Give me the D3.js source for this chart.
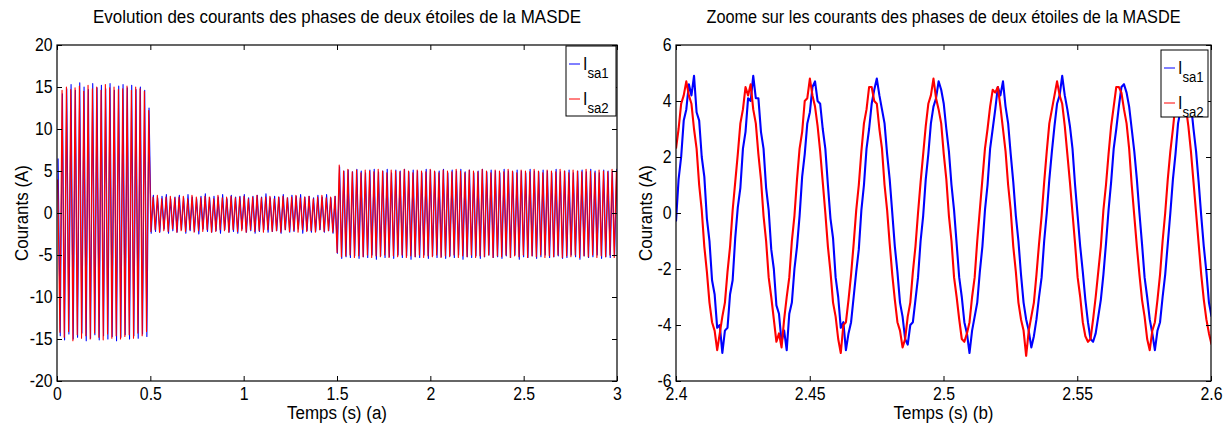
<!DOCTYPE html>
<html>
<head>
<meta charset="utf-8">
<script src="https://cdn.jsdelivr.net/npm/d3@7"></script>
<style>
  body { margin: 0; background: #fff; }
  text { font-family: "Liberation Sans", Arial, Helvetica, sans-serif; fill: #000; }
</style>
</head>
<body>
<svg id="fig" width="1223" height="425"></svg>
<script>
// ---- données ----
// (a) courbe complète : extrêmes successifs (une demi-période entre deux valeurs)
const halfPeriodA = 0.0116;          // s
const startIsa1A = 0.0058, startIsa2A = 0.0039;

const isa1A = [
  // démarrage 0 - 0.5 s
  6.5, -14.6, 14.2, -15.1, 14.8, -14.4, 15.3, -15.0, 14.6, -14.8,
  15.5, -14.3, 15.0, -15.2, 14.7, -14.9, 15.4, -14.5, 14.9, -15.1,
  15.2, -14.6, 14.8, -15.0, 15.4, -14.7, 14.6, -15.2, 15.1, -14.8,
  15.3, -14.5, 14.9, -15.0, 15.2, -14.6, 14.7, -14.9, 15.0, -14.4,
  14.6, -14.7, 12.5,
  // 0.5 - 1.5 s
  -2.4, 2.1, -2.2, 1.8, -2.3, 2.0, -1.9, 2.2, -2.4, 1.7,
  -2.1, 1.9, -2.3, 2.1, -2.0, 1.8, -2.4, 2.2, -2.1, 1.9,
  -2.2, 1.7, -2.5, 2.0, -1.9, 2.3, -2.2, 1.8, -2.3, 2.0,
  -2.1, 1.9, -2.4, 2.2, -2.0, 1.7, -2.3, 2.1, -2.2, 1.9,
  -2.4, 2.0, -1.9, 2.2, -2.3, 1.8, -2.1, 2.0, -2.4, 2.1,
  -2.2, 1.9, -2.0, 2.3, -2.3, 1.8, -2.2, 2.0, -2.1, 1.9,
  -2.4, 2.2, -2.0, 1.8, -2.3, 2.1, -2.2, 2.0, -1.9, 2.2,
  -2.4, 1.9, -2.1, 2.0, -2.3, 1.8, -2.2, 2.1, -2.0, 1.9,
  -2.3, 2.2, -2.1, 1.8, -2.4, 2.0,
  // 1.5 - 3 s
  -4.8, 5.5, -5.4, 5.0, -5.2, 5.1, -5.3, 4.9, -5.1, 5.2,
  -5.4, 5.0, -5.2, 4.8, -5.3, 5.1, -5.0, 5.2, -5.5, 4.9,
  -5.1, 5.0, -5.3, 5.2, -5.2, 4.8, -5.4, 5.1, -5.0, 5.0,
  -5.3, 5.2, -5.1, 4.9, -5.5, 5.1, -5.2, 5.0, -5.3, 4.8,
  -5.0, 5.2, -5.4, 5.1, -5.1, 4.9, -5.3, 5.0, -5.2, 5.2,
  -5.4, 4.8, -5.1, 5.1, -5.3, 5.0, -5.0, 5.2, -5.5, 4.9,
  -5.2, 5.1, -5.3, 4.8, -5.1, 5.0, -5.4, 5.2, -5.2, 4.9,
  -5.0, 5.1, -5.3, 5.0, -5.2, 4.8, -5.4, 5.2, -5.1, 5.0,
  -5.3, 4.9, -5.0, 5.1, -5.5, 5.0, -5.2, 4.8, -5.3, 5.2,
  -5.1, 5.0, -5.4, 4.9, -5.2, 5.1, -5.0, 5.0, -5.3, 4.8,
  -5.2, 5.2, -5.1, 4.9, -5.4, 5.0, -5.3, 5.1, -5.0, 4.8,
  -5.2, 5.0, -5.5, 5.1, -5.1, 4.9, -5.3, 5.2, -5.2, 5.0,
  -5.0, 4.8, -5.4, 5.1, -5.2, 5.0, -5.3, 4.9, -5.1, 5.2,
  -5.2
];

const isa2A = [
  4.0, -14.2, 14.6, -14.8, 15.0, -14.1, 14.7, -15.2, 14.9, -14.5,
  15.1, -14.9, 14.5, -14.6, 15.2, -15.0, 14.8, -14.3, 15.0, -14.8,
  14.6, -15.1, 15.3, -14.4, 14.9, -14.9, 15.0, -14.6, 14.7, -15.0,
  14.8, -14.7, 15.1, -14.5, 14.6, -14.9, 15.0, -14.3, 14.8, -14.6,
  14.5, -14.1, 12.2,
  -2.2, 1.9, -2.0, 2.1, -2.3, 1.7, -2.1, 1.9, -2.2, 2.0,
  -1.9, 1.8, -2.3, 1.9, -2.1, 2.0, -2.2, 1.7, -2.0, 2.1,
  -2.3, 1.9, -2.1, 1.8, -2.2, 2.0, -2.0, 1.9, -2.3, 1.7,
  -2.2, 2.1, -2.0, 1.8, -2.1, 1.9, -2.3, 2.0, -2.0, 1.8,
  -2.2, 1.9, -2.1, 2.0, -2.3, 1.7, -2.0, 1.9, -2.2, 2.1,
  -2.1, 1.8, -2.3, 1.9, -2.0, 2.0, -2.2, 1.7, -2.1, 1.9,
  -2.3, 2.0, -2.0, 1.8, -2.2, 1.9, -2.1, 2.1, -2.3, 1.8,
  -2.0, 1.9, -2.2, 2.0, -2.1, 1.7, -2.3, 1.9, -2.0, 2.1,
  -2.2, 1.8, -2.1, 1.9, -2.3, 2.0,
  -4.7, 5.7, -5.2, 5.0, -5.1, 5.2, -5.0, 4.9, -5.3, 5.1,
  -5.1, 4.8, -5.2, 5.1, -5.0, 5.0, -5.3, 4.9, -5.1, 5.2,
  -5.2, 5.0, -5.0, 4.8, -5.3, 5.1, -5.1, 5.0, -5.2, 4.9,
  -5.0, 5.2, -5.3, 5.0, -5.1, 4.8, -5.2, 5.1, -5.0, 5.0,
  -5.3, 4.9, -5.1, 5.2, -5.2, 5.0, -5.0, 4.8, -5.3, 5.1,
  -5.1, 5.0, -5.2, 4.9, -5.0, 5.2, -5.3, 5.0, -5.1, 4.8,
  -5.2, 5.1, -5.0, 5.0, -5.3, 4.9, -5.1, 5.2, -5.2, 5.0,
  -5.0, 4.8, -5.3, 5.1, -5.1, 5.0, -5.2, 4.9, -5.0, 5.2,
  -5.3, 5.0, -5.1, 4.8, -5.2, 5.1, -5.0, 5.0, -5.3, 4.9,
  -5.1, 5.2, -5.2, 5.0, -5.0, 4.8, -5.3, 5.1, -5.1, 5.0,
  -5.2, 4.9, -5.0, 5.2, -5.3, 5.0, -5.1, 4.8, -5.2, 5.1,
  -5.0, 5.0, -5.3, 4.9, -5.1, 5.2, -5.2, 5.0, -5.0, 4.8,
  -5.3, 5.1, -5.1, 5.0, -5.2, 4.9, -5.0, 5.2, -5.3, 5.0,
  -5.1
];

// (b) zoom 2.4 - 2.6 s : échantillons réguliers
const sampleStepB = 0.0009625;       // s
const startB = 2.4;

const isa1B = [
  -0.3, 1.2, 2.0, 3.3, 3.7, 4.6, 4.2, 4.9, 3.6, 3.3, 2.0, 1.3, -0.2, -1.0, -2.4, -2.9, -4.1, -4.0, -5.0, -4.2, -4.1, -2.9, -2.4, -0.9,
  0.2, 0.9, 2.3, 2.9, 4.1, 4.0, 4.9, 4.1, 4.1, 2.9, 2.3, 0.9, 0.1, -1.3, -2.0, -3.3, -3.6, -4.6, -4.2, -4.9, -3.6, -3.2, -2.0, -1.2,
  -0.1, 1.3, 2.1, 3.2, 3.6, 4.5, 4.7, 4.0, 3.9, 3.0, 2.3, 1.0, -0.2, -0.9, -2.3, -3.0, -4.1, -3.9, -4.9, -4.3, -3.9, -3.0, -2.1, -1.3,
  0.1, 1.0, 2.3, 3.0, 3.9, 4.4, 4.8, 4.2, 3.7, 3.2, 2.1, 1.2, 0.0, -1.2, -2.1, -3.2, -3.7, -4.5, -4.7, -4.0, -3.9, -3.1, -2.3, -1.0,
  -0.1, 1.2, 2.1, 3.2, 3.8, 4.1, 4.7, 4.4, 3.9, 3.0, 2.2, 1.0, 0.1, -1.1, -2.3, -3.0, -3.9, -4.3, -5.0, -4.2, -3.7, -3.2, -2.1, -1.2,
  0.1, 1.0, 2.3, 3.0, 3.7, 4.5, 4.2, 4.7, 3.8, 3.2, 2.1, 1.1, -0.1, -1.0, -2.2, -3.2, -3.8, -4.2, -4.8, -4.4, -3.8, -3.0, -2.3, -1.0,
  0.0, 1.2, 2.2, 3.1, 3.9, 4.2, 4.9, 4.2, 3.7, 3.1, 2.3, 1.0, -0.1, -1.2, -2.1, -3.1, -3.9, -4.5, -4.6, -4.3, -3.7, -3.1, -2.2, -1.1,
  0.1, 1.1, 2.3, 3.0, 3.8, 4.5, 4.6, 4.3, 3.8, 3.0, 2.2, 1.2, 0.0, -1.1, -2.3, -3.0, -3.8, -4.3, -4.9, -4.2, -3.9, -3.0, -2.2, -1.1,
  0.0, 1.2, 2.1, 3.2, 3.7, 4.4, 4.8, 4.2, 3.9, 3.0, 2.2, 1.1, -0.1, -1.2, -2.1, -3.2, -3.7
];

const isa2B = [
  2.3, 3.0, 3.9, 4.2, 4.7, 4.2, 3.9, 3.0, 2.3, 1.0, 0.1, -1.2, -2.1, -3.2, -3.9, -4.2, -4.9, -4.3, -3.7, -3.2, -2.1, -1.2, 0.1, 1.1,
  2.1, 3.2, 3.7, 4.5, 4.2, 4.6, 3.7, 3.2, 2.1, 1.2, -0.1, -1.0, -2.3, -3.0, -3.8, -4.6, -4.3, -4.8, -3.8, -3.0, -2.3, -1.0, -0.1, 1.2,
  2.3, 2.9, 4.0, 4.1, 4.8, 4.2, 3.8, 3.1, 2.2, 1.1, 0.0, -1.2, -2.1, -3.2, -3.7, -4.5, -5.0, -4.0, -3.9, -3.1, -2.2, -1.1, 0.1, 1.0,
  2.2, 3.2, 3.7, 4.5, 4.5, 4.0, 3.9, 3.0, 2.3, 1.0, 0.1, -1.1, -2.2, -3.1, -3.9, -4.2, -4.8, -4.5, -3.7, -3.2, -2.1, -1.2, 0.0, 1.1,
  2.1, 3.1, 3.9, 4.2, 4.8, 4.1, 3.7, 3.2, 2.1, 1.2, -0.1, -1.0, -2.3, -3.0, -3.8, -4.5, -4.6, -4.3, -3.9, -3.0, -2.3, -1.0, 0.1, 1.2,
  2.3, 3.0, 3.8, 4.4, 4.3, 4.5, 3.8, 3.0, 2.2, 1.0, 0.1, -1.2, -2.1, -3.2, -3.8, -4.2, -5.1, -4.2, -3.7, -3.2, -2.2, -1.1, -0.1, 1.1,
  2.2, 3.2, 3.7, 4.2, 4.7, 4.2, 3.9, 3.1, 2.1, 1.1, 0.0, -1.1, -2.3, -3.0, -3.9, -4.4, -4.6, -4.5, -3.8, -3.0, -2.1, -1.2, 0.1, 1.0,
  2.1, 3.1, 3.8, 4.5, 4.5, 4.3, 3.7, 3.2, 2.3, 1.0, -0.1, -1.2, -2.2, -3.1, -3.7, -4.5, -4.9, -4.2, -3.9, -3.1, -2.2, -1.0, 0.0, 1.2,
  2.2, 3.0, 3.9, 4.3, 4.6, 4.2, 3.8, 3.1, 2.2, 1.1, 0.0, -1.1, -2.2, -3.1, -3.8, -4.3, -4.7
];

// graduations
const xTicksA = [0, 0.5, 1, 1.5, 2, 2.5, 3];
const yTicksA = [-20, -15, -10, -5, 0, 5, 10, 15, 20];
const xTicksB = [2.4, 2.45, 2.5, 2.55, 2.6];
const yTicksB = [-6, -4, -2, 0, 2, 4, 6];

const seriesNames = ["sa1", "sa2"];
const seriesColors = ["#0000ff", "#ff0000"];

const svg = d3.select("#fig");
const narrow = 0.88;   // police étroite façon MATLAB

function drawPanel(p) {
  const x = d3.scaleLinear().domain(p.xDomain).range([p.left, p.right]);
  const y = d3.scaleLinear().domain(p.yDomain).range([p.bottom, p.top]);
  const g = svg.append("g");

  g.append("clipPath").attr("id", p.id + "-clip")
    .append("rect")
    .attr("x", p.left).attr("y", p.top)
    .attr("width", p.right - p.left).attr("height", p.bottom - p.top);

  // courbes (Isa1 d'abord, Isa2 par-dessus)
  const plot = g.append("g").attr("clip-path", `url(#${p.id}-clip)`);
  const line = d3.line().x(d => x(d[0])).y(d => y(d[1]));
  p.series.forEach((s, k) => {
    const pts = s.values.map((v, i) => [s.t0 + i * s.dt, v]);
    plot.append("path")
      .datum(pts)
      .attr("fill", "none")
      .attr("stroke", seriesColors[k])
      .attr("stroke-width", p.lineWidth)
      .attr("stroke-linejoin", "round")
      .attr("d", line);
  });

  // axes façon MATLAB : graduations vers l'intérieur, sur les 4 côtés
  const fmt = d => String(d);
  const tk = 5;
  const axB = g.append("g").attr("transform", `translate(0,${p.bottom})`)
    .call(d3.axisBottom(x).tickValues(p.xTicks).tickSize(-tk).tickPadding(6).tickFormat(fmt));
  const axT = g.append("g").attr("transform", `translate(0,${p.top})`)
    .call(d3.axisTop(x).tickValues(p.xTicks).tickSize(-tk).tickFormat(""));
  const axL = g.append("g").attr("transform", `translate(${p.left},0)`)
    .call(d3.axisLeft(y).tickValues(p.yTicks).tickSize(-tk).tickPadding(5).tickFormat(fmt));
  const axR = g.append("g").attr("transform", `translate(${p.right},0)`)
    .call(d3.axisRight(y).tickValues(p.yTicks).tickSize(-tk).tickFormat(""));
  [axB, axT, axL, axR].forEach(a => {
    a.select(".domain").remove();
    a.selectAll(".tick line").attr("stroke", "#000");
    a.selectAll("text").attr("font-size", 18).attr("fill", "#000")
      .attr("transform", `scale(${narrow},1)`);
  });
  axB.selectAll("text").attr("dy", "0.75em");

  g.append("rect")
    .attr("x", p.left).attr("y", p.top)
    .attr("width", p.right - p.left).attr("height", p.bottom - p.top)
    .attr("fill", "none").attr("stroke", "#000").attr("stroke-width", 1.2);

  // titre et libellés
  const cx = (p.left + p.right) / 2;
  g.append("text")
    .attr("x", cx).attr("y", 23)
    .attr("text-anchor", "middle").attr("font-size", 18)
    .attr("textLength", p.titleLen).attr("lengthAdjust", "spacingAndGlyphs")
    .text(p.title);
  g.append("text")
    .attr("x", cx).attr("y", 419)
    .attr("text-anchor", "middle").attr("font-size", 18)
    .attr("textLength", 100).attr("lengthAdjust", "spacingAndGlyphs")
    .text(p.xLabel);
  g.append("text")
    .attr("transform", `translate(${p.yLabelX},${(p.top + p.bottom) / 2}) rotate(-90)`)
    .attr("text-anchor", "middle").attr("font-size", 18)
    .attr("textLength", 96).attr("lengthAdjust", "spacingAndGlyphs")
    .text("Courants (A)");

  // légende
  const lg = p.legend;
  g.append("rect")
    .attr("x", lg.x).attr("y", lg.y).attr("width", lg.w).attr("height", lg.h)
    .attr("fill", "#fff").attr("stroke", "#000").attr("stroke-width", 1);
  seriesNames.forEach((name, k) => {
    const cy = lg.y + 18 + k * 35;
    g.append("line")
      .attr("x1", lg.x + 3).attr("x2", lg.x + 14)
      .attr("y1", cy).attr("y2", cy)
      .attr("stroke", seriesColors[k]).attr("stroke-width", 1);
    const t = g.append("text")
      .attr("transform", `translate(${lg.x + 17},${cy + 6}) scale(${narrow},1)`)
      .attr("font-size", 18);
    t.append("tspan").text("I");
    t.append("tspan").attr("dy", 8).attr("font-size", 15).text(name);
  });
}

drawPanel({
  id: "a", left: 57, right: 617, top: 45, bottom: 381,
  xDomain: [0, 3], yDomain: [-20, 20],
  xTicks: xTicksA, yTicks: yTicksA, lineWidth: 1.1,
  title: "Evolution des courants des phases de deux étoiles de la MASDE", titleLen: 488,
  xLabel: "Temps (s) (a)", yLabelX: 28,
  legend: { x: 566, y: 46, w: 50, h: 70 },
  series: [
    { values: isa1A, t0: startIsa1A, dt: halfPeriodA },
    { values: isa2A, t0: startIsa2A, dt: halfPeriodA }
  ]
});

drawPanel({
  id: "b", left: 676, right: 1211, top: 45, bottom: 381,
  xDomain: [2.4, 2.6], yDomain: [-6, 6],
  xTicks: xTicksB, yTicks: yTicksB, lineWidth: 2.1,
  title: "Zoome sur les courants des phases de deux étoiles de la MASDE", titleLen: 474,
  xLabel: "Temps (s) (b)", yLabelX: 652,
  legend: { x: 1161, y: 50, w: 47, h: 67 },
  series: [
    { values: isa1B, t0: startB, dt: sampleStepB },
    { values: isa2B, t0: startB, dt: sampleStepB }
  ]
});
</script>
</body>
</html>
